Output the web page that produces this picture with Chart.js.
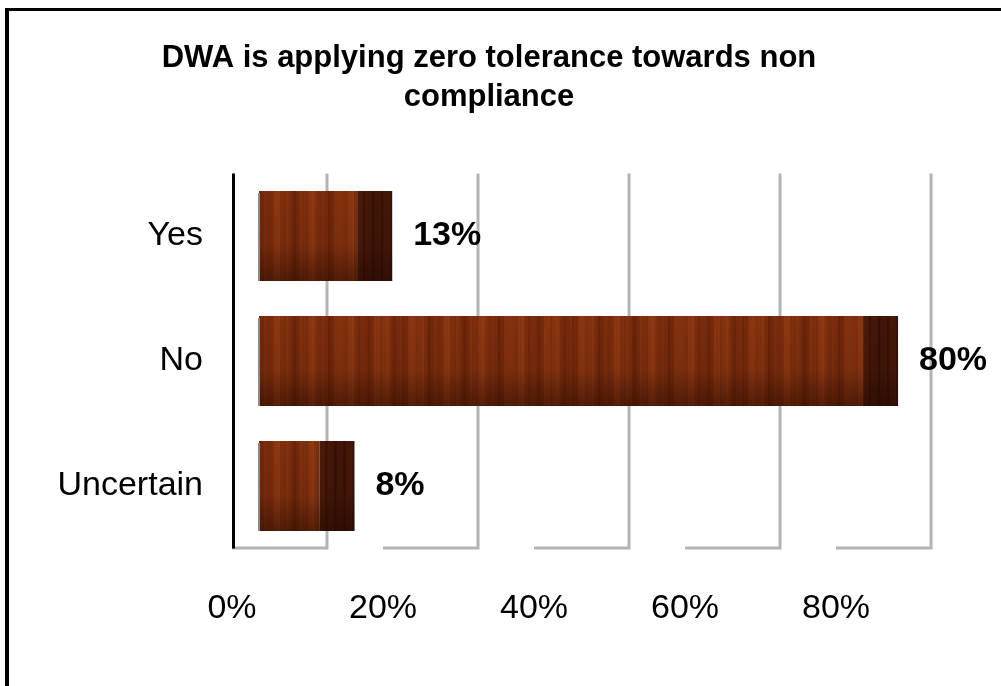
<!DOCTYPE html>
<html>
<head>
<meta charset="utf-8">
<script src="https://cdn.jsdelivr.net/npm/chart.js@4"></script>
<style>
  html, body { margin: 0; padding: 0; background: #fff; }
</style>
</head>
<body>
<canvas id="myChart" width="1001" height="686"></canvas>
<script>
const categories = ["Yes", "No", "Uncertain"];
const values = [13, 80, 8];
const tickValues = [0, 20, 40, 60, 80];
const titleLines = ["DWA is applying zero tolerance towards non", "compliance"];

const FONT = "'Liberation Sans', Arial, sans-serif";
const frontShift = -27; // tick labels / floor start sit in front of the bars
const backShift = 68;   // gridlines sit on the back wall
const sideDepth = 35;   // dark end face of each bar

// wood-ish stripes, vertical grain only
function woodPattern(ctx) {
    const c = document.createElement("canvas");
    c.width = 170; c.height = 10;
    const g = c.getContext("2d");
    for (let x = 0; x < 170; x += 2) {
        let t = 0.5 + 0.22 * Math.sin(x * 0.19) + 0.15 * Math.sin(x * 0.53 + 2) + 0.08 * Math.sin(x * 1.7);
        let r = Math.round(100 + 50 * t), gg = Math.round(32 + 28 * t), b = Math.round(6 + 14 * t);
        g.fillStyle = "rgb(" + r + "," + gg + "," + b + ")";
        g.fillRect(x, 0, 2, 10);
    }
    return ctx.createPattern(c, "repeat");
}

const decor = {
    id: "decor",
    beforeDraw(chart) {
        const ctx = chart.ctx;
        ctx.save();
        ctx.fillStyle = "#fff";
        ctx.fillRect(0, 0, chart.width, chart.height);
        ctx.fillStyle = "#000";
        ctx.fillRect(5, 8, chart.width - 5, 3);
        ctx.fillRect(5, 8, 4, chart.height - 8);
        ctx.restore();
    },
    beforeDatasetsDraw(chart) {
        const ctx = chart.ctx, area = chart.chartArea, xs = chart.scales.x;
        ctx.save();
        ctx.strokeStyle = "#b4b4b4";
        ctx.lineWidth = 3;
        tickValues.forEach(v => {
            const p = xs.getPixelForValue(v);
            ctx.beginPath();
            ctx.moveTo(p + frontShift, area.bottom - 0.5);
            ctx.lineTo(p + backShift, area.bottom - 0.5);
            ctx.lineTo(p + backShift, area.top);
            ctx.stroke();
        });
        ctx.fillStyle = "#000";
        ctx.fillRect(area.left, area.top, 3, area.bottom - area.top);
        ctx.restore();
    },
    afterDatasetsDraw(chart) {
        const ctx = chart.ctx;
        const meta = chart.getDatasetMeta(0);
        ctx.save();
        meta.data.forEach((bar, i) => {
            const top = bar.y - bar.height / 2, h = bar.height;
            // end face
            const side = ctx.createLinearGradient(bar.x, 0, bar.x + sideDepth, 0);
            side.addColorStop(0, "rgb(78,26,8)");
            side.addColorStop(0.5, "rgb(64,21,7)");
            side.addColorStop(1, "rgb(72,24,8)");
            ctx.fillStyle = side;
            ctx.fillRect(bar.x, top, sideDepth, h);
            ctx.fillStyle = "rgba(30,8,2,0.35)";
            for (let k = 6; k < sideDepth; k += 9) ctx.fillRect(bar.x + k, top, 2, h);
            // darker toward the bottom
            const v = ctx.createLinearGradient(0, top, 0, top + h);
            v.addColorStop(0, "rgba(0,0,0,0)");
            v.addColorStop(0.6, "rgba(20,4,0,0.08)");
            v.addColorStop(1, "rgba(30,6,0,0.5)");
            ctx.fillStyle = v;
            ctx.fillRect(bar.base, top, bar.x + sideDepth - bar.base, h);
            // grey left edge
            ctx.fillStyle = "#8a8a8a";
            ctx.fillRect(bar.base - 1, top + 2, 2, h - 2);
            // value label
            ctx.fillStyle = "#000";
            ctx.font = "bold 34px " + FONT;
            ctx.textAlign = "left";
            ctx.textBaseline = "middle";
            ctx.fillText(values[i] + "%", bar.x + 56, bar.y);
        });
        ctx.restore();
    }
};

const ctx = document.getElementById("myChart").getContext("2d");
const myChart = new Chart(ctx, {
    type: "bar",
    data: {
        labels: categories,
        datasets: [
            {
                data: values,
                backgroundColor: woodPattern(ctx),
                borderWidth: 0,
                barPercentage: 0.72,
                categoryPercentage: 1
            }
        ]
    },
    options: {
        responsive: false,
        animation: false,
        indexAxis: "y",
        layout: { padding: { left: 47, right: 70, top: 0, bottom: 0 } },
        plugins: {
            legend: { display: false },
            tooltip: { enabled: false },
            title: {
                display: true,
                text: titleLines,
                color: "#000",
                font: { family: FONT, size: 31, weight: "bold", lineHeight: 1.25 },
                padding: { top: 39, bottom: 57 }
            }
        },
        scales: {
            x: {
                type: "linear",
                min: -3.576,
                max: 89,
                afterBuildTicks: s => { s.ticks = tickValues.map(v => ({ value: v })); },
                afterFit: s => { s.height = 137.5; },
                grid: { display: false },
                border: { display: false },
                ticks: {
                    autoSkip: false,
                    maxRotation: 0,
                    padding: 32,
                    labelOffset: frontShift,
                    color: "#000",
                    font: { family: FONT, size: 34 },
                    callback: v => v + "%"
                }
            },
            y: {
                afterFit: s => { s.width = 185; },
                grid: { display: false },
                border: { display: false },
                ticks: {
                    padding: 21,
                    color: "#000",
                    font: { family: FONT, size: 34 }
                }
            }
        }
    },
    plugins: [decor]
});
</script>
</body>
</html>
